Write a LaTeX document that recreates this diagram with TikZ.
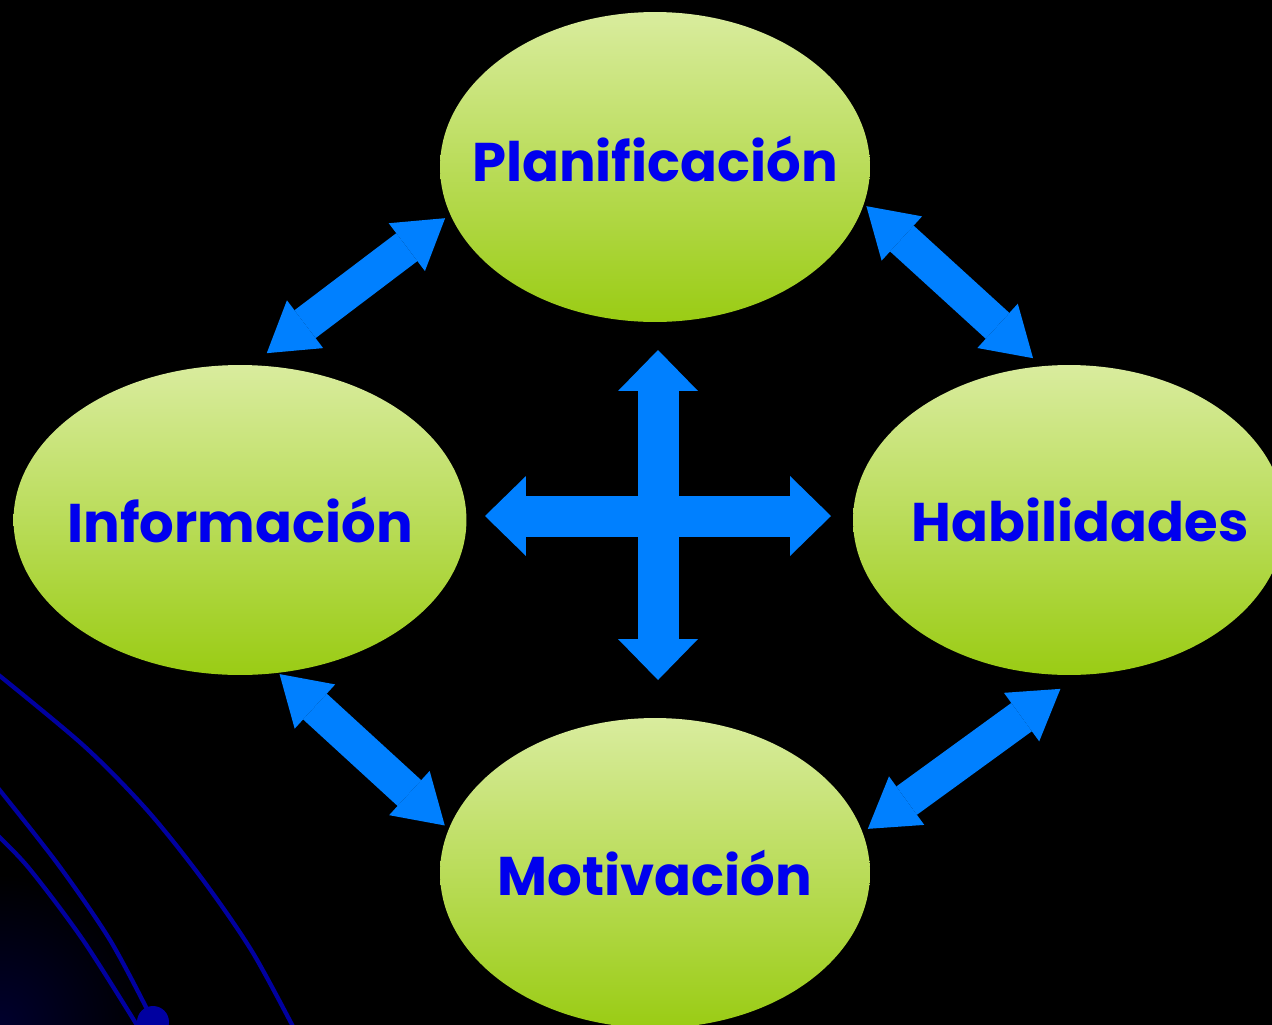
\documentclass[tikz,border=0pt]{standalone}
\usepackage{fontspec}
\newfontfamily\bubblefont{Poppins}
\usetikzlibrary{arrows.meta,shapes.geometric}

\definecolor{bubbletop}{RGB}{217,236,158}
\definecolor{bubblebottom}{RGB}{154,204,20}
\definecolor{tagblue}{RGB}{0,0,238}
\definecolor{arrowblue}{RGB}{0,128,255}
\definecolor{swirlblue}{RGB}{0,0,160}
\definecolor{glowblue}{RGB}{0,0,45}

\tikzset{
  bubble/.style={ellipse, minimum height=6.2cm, inner sep=0pt, outer sep=0pt,
    top color=bubbletop, bottom color=bubblebottom},
  tag/.style={text=tagblue, font=\bubblefont\bfseries\fontsize{31}{37}\selectfont},
  link/.style={draw=arrowblue, line width=0.7cm,
    {Triangle[length=0.96cm,width=1.2cm,line width=0pt]}-{Triangle[length=0.96cm,width=1.2cm,line width=0pt]}},
  cross/.style={draw=arrowblue, line width=0.82cm,
    {Triangle[length=0.82cm,width=1.6cm,line width=0pt]}-{Triangle[length=0.82cm,width=1.6cm,line width=0pt]}},
  swirl/.style={draw=swirlblue, line width=0.085cm}
}

\begin{document}
\begin{tikzpicture}[x=0.02cm, y=-0.02cm]
	\clip (0,0) rectangle (1272,1025);
	\fill[black] (0,0) rectangle (1272,1025);

	% background swirl
	\shade[inner color=glowblue, outer color=black] (0,1025) circle[radius=150];
	\draw[swirl] plot[smooth] coordinates {(-10,668) (83,745) (147,810) (203,880) (253,953) (300,1040)};
	\draw[swirl] plot[smooth] coordinates {(-10,778) (57,863) (110,940) (150,1015)};
	\draw[swirl] plot[smooth] coordinates {(-10,828) (28,867) (83,940) (140,1030)};
	\fill[swirlblue] (153,1022) circle[radius=16];

	% bubbles
	\node[bubble, minimum width=8.6cm, label={[tag, yshift=0.16cm]center:Planificación}] (plan) at (655,167) {};
	\node[bubble, minimum width=9.06cm, label={[tag]center:Información}] (info) at (240,520) {};
	\node[bubble, minimum width=8.64cm, label={[tag, xshift=0.22cm]center:Habilidades}] (hab) at (1069,520) {};
	\node[bubble, minimum width=8.6cm, label={[tag]center:Motivación}] (mot) at (655,873) {};

	% links
	\draw[link, shorten <=0.13cm, shorten >=0.4cm] (plan.193) -- (info.86.7);
	\draw[link, shorten <=0.07cm, shorten >=0.24cm] (plan.350.6) -- (hab.100);
	\draw[link, shorten <=0.04cm, shorten >=0.11cm] (info.284.2) -- (mot.168.5);
	\draw[link, shorten <=0.48cm, shorten >=0.13cm] (hab.274.3) -- (mot.11.6);

	% centre cross
	\coordinate (hub) at (658,515);
	\draw[cross] (hub) ++(0,-165) -- ++(0,330);
	\draw[cross] (hub) ++(-173,1) -- ++(346,0);
\end{tikzpicture}
\end{document}
